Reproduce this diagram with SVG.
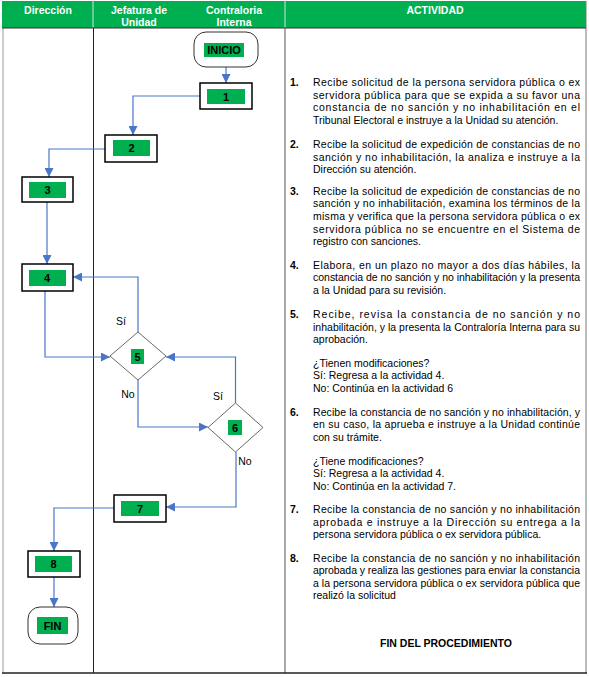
<svg xmlns="http://www.w3.org/2000/svg" width="589" height="677" viewBox="0 0 589 677">
<style>
.hd{font-family:"Liberation Sans",Arial,sans-serif;font-size:10.5px;font-weight:bold;fill:#fff;text-anchor:middle}
.tx{font-family:"Liberation Sans",Arial,sans-serif;font-size:10.5px;fill:#000}
.nb{font-family:"Liberation Sans",Arial,sans-serif;font-size:10.5px;font-weight:bold;fill:#000}
.lb{font-family:"Liberation Sans",Arial,sans-serif;font-size:11px;font-weight:bold;fill:#000;text-anchor:middle}
.sm{font-family:"Liberation Sans",Arial,sans-serif;font-size:10.5px;fill:#000;text-anchor:middle}
.box{fill:#fff;stroke:#000;stroke-width:1.5}
.term{fill:#fff;stroke:#333;stroke-width:1}
.dia{fill:#fff;stroke:#444;stroke-width:0.8}
.g{fill:#00B050}
.cn{fill:none;stroke:#4a76c8;stroke-width:1.2}
</style>
<defs>
<marker id="ar" markerUnits="userSpaceOnUse" markerWidth="9" markerHeight="9" refX="9" refY="4.5" orient="auto">
<path d="M0,0 L9,4.5 L0,9 z" fill="#4a76c8"/>
</marker>
</defs>
<rect width="589" height="677" fill="#fff"/>
<g id="table">
<rect x="2" y="1" width="584" height="27" fill="#00B050"/>
<line x1="93" y1="1" x2="93" y2="28" stroke="#cfe8d8" stroke-width="1"/>
<line x1="285" y1="1" x2="285" y2="28" stroke="#cfe8d8" stroke-width="1"/>
<line x1="3" y1="28" x2="3" y2="673" stroke="#999" stroke-width="1"/>
<line x1="93.5" y1="28" x2="93.5" y2="673" stroke="#222" stroke-width="1"/>
<line x1="285" y1="28" x2="285" y2="673" stroke="#555" stroke-width="1"/>
<line x1="586" y1="1" x2="586" y2="673" stroke="#777" stroke-width="1"/>
<line x1="2" y1="28" x2="586" y2="28" stroke="#333" stroke-width="1"/>
<line x1="2" y1="673" x2="587" y2="673" stroke="#222" stroke-width="1.5"/>
<text class="hd" x="48" y="14">Dirección</text>
<text class="hd" x="139" y="14">Jefatura de</text>
<text class="hd" x="139" y="26">Unidad</text>
<text class="hd" x="234" y="14">Contraloria</text>
<text class="hd" x="234" y="26">Interna</text>
<text class="hd" x="435" y="14">ACTIVIDAD</text>
</g>
<g id="connectors">
<path class="cn" d="M226 67 V83" marker-end="url(#ar)"/>
<path class="cn" d="M200 96 H133 V135" marker-end="url(#ar)"/>
<path class="cn" d="M105 149 H49 V177" marker-end="url(#ar)"/>
<path class="cn" d="M47 202 V264" marker-end="url(#ar)"/>
<path class="cn" d="M45 291 V357 H110" marker-end="url(#ar)"/>
<path class="cn" d="M138 332 V277 H73" marker-end="url(#ar)"/>
<path class="cn" d="M138 380 V427 H208" marker-end="url(#ar)"/>
<path class="cn" d="M235.5 403 V357 H166" marker-end="url(#ar)"/>
<path class="cn" d="M236 452 V507 H166" marker-end="url(#ar)"/>
<path class="cn" d="M114 508 H54 V551" marker-end="url(#ar)"/>
<path class="cn" d="M54 577 V607" marker-end="url(#ar)"/>
<text class="sm" x="121" y="325">Sí</text>
<text class="sm" x="128" y="398">No</text>
<text class="sm" x="218" y="400">Sí</text>
<text class="sm" x="245" y="465">No</text>
</g>
<g id="inicio">
<rect class="term" x="194" y="32" width="64" height="35" rx="12"/>
<rect class="g" x="204" y="43" width="40" height="14"/>
<text class="lb" x="224" y="54">INICIO</text>
</g>
<g id="n1">
<rect class="box" x="200" y="83" width="52" height="26"/>
<rect class="g" x="207" y="89" width="38" height="15"/>
<text class="lb" x="226" y="100.5">1</text>
</g>
<g id="n2">
<rect class="box" x="105" y="135" width="52" height="27"/>
<rect class="g" x="113" y="140" width="37" height="16"/>
<text class="lb" x="131.5" y="152">2</text>
</g>
<g id="n3">
<rect class="box" x="22" y="177" width="51" height="25"/>
<rect class="g" x="29" y="182" width="37" height="16"/>
<text class="lb" x="47.5" y="194">3</text>
</g>
<g id="n4">
<rect class="box" x="22" y="264" width="51" height="27"/>
<rect class="g" x="29" y="270" width="37" height="16"/>
<text class="lb" x="47" y="282">4</text>
</g>
<g id="n5">
<polygon class="dia" points="138,332 166,356 138,380 110,356"/>
<rect class="g" x="131" y="349" width="13" height="15"/>
<text class="lb" x="137.5" y="360.5">5</text>
</g>
<g id="n6">
<polygon class="dia" points="235.5,403 263,427.5 235.5,452 208,427.5"/>
<rect class="g" x="228" y="420" width="14" height="15"/>
<text class="lb" x="235" y="432">6</text>
</g>
<g id="n7">
<rect class="box" x="114" y="495" width="52" height="27"/>
<rect class="g" x="121" y="501" width="38" height="15"/>
<text class="lb" x="140" y="512.5">7</text>
</g>
<g id="n8">
<rect class="box" x="28" y="551" width="52" height="26"/>
<rect class="g" x="35" y="556" width="37" height="16"/>
<text class="lb" x="53.5" y="568">8</text>
</g>
<g id="fin">
<rect class="term" x="28" y="607" width="50" height="37" rx="12"/>
<rect class="g" x="37" y="617" width="31" height="17"/>
<text class="lb" x="52.5" y="629.5">FIN</text>
</g>
<g id="actividad">
<text class="nb" x="290" y="86">1.</text>
<text class="tx" x="313" y="86" textLength="267" lengthAdjust="spacing">Recibe solicitud de la persona servidora pública o ex</text>
<text class="tx" x="313" y="99" textLength="267" lengthAdjust="spacing">servidora pública para que se expida a su favor una</text>
<text class="tx" x="313" y="111" textLength="267" lengthAdjust="spacing">constancia de no sanción y no inhabilitación en el</text>
<text class="tx" x="313" y="124">Tribunal Electoral e instruye a la Unidad su atención.</text>

<text class="nb" x="290" y="148">2.</text>
<text class="tx" x="313" y="148" textLength="267" lengthAdjust="spacing">Recibe la solicitud de expedición de constancias de no</text>
<text class="tx" x="313" y="161" textLength="267" lengthAdjust="spacing">sanción y no inhabilitación, la analiza e instruye a la</text>
<text class="tx" x="313" y="173">Dirección su atención.</text>

<text class="nb" x="290" y="195">3.</text>
<text class="tx" x="313" y="195" textLength="267" lengthAdjust="spacing">Recibe la solicitud de expedición de constancias de no</text>
<text class="tx" x="313" y="207" textLength="267" lengthAdjust="spacing">sanción y no inhabilitación, examina los términos de la</text>
<text class="tx" x="313" y="220" textLength="267" lengthAdjust="spacing">misma y verifica que la persona servidora pública o ex</text>
<text class="tx" x="313" y="233" textLength="267" lengthAdjust="spacing">servidora pública no se encuentre en el Sistema de</text>
<text class="tx" x="313" y="245">registro con sanciones.</text>

<text class="nb" x="290" y="269">4.</text>
<text class="tx" x="313" y="269" textLength="267" lengthAdjust="spacing">Elabora, en un plazo no mayor a dos días hábiles, la</text>
<text class="tx" x="313" y="281" textLength="267" lengthAdjust="spacing">constancia de no sanción y no inhabilitación y la presenta</text>
<text class="tx" x="313" y="294">a la Unidad para su revisión.</text>

<text class="nb" x="290" y="318">5.</text>
<text class="tx" x="313" y="318" textLength="267" lengthAdjust="spacing">Recibe, revisa la constancia de no sanción y no</text>
<text class="tx" x="313" y="331" textLength="267" lengthAdjust="spacing">inhabilitación, y la presenta la Contraloría Interna para su</text>
<text class="tx" x="313" y="343">aprobación.</text>
<text class="tx" x="313" y="367">¿Tienen modificaciones?</text>
<text class="tx" x="313" y="379">Sí: Regresa a la actividad 4.</text>
<text class="tx" x="313" y="392">No: Continúa en la actividad 6</text>

<text class="nb" x="290" y="416">6.</text>
<text class="tx" x="313" y="416" textLength="267" lengthAdjust="spacing">Recibe la constancia de no sanción y no inhabilitación, y</text>
<text class="tx" x="313" y="428" textLength="267" lengthAdjust="spacing">en su caso, la aprueba e instruye a la Unidad continúe</text>
<text class="tx" x="313" y="441">con su trámite.</text>
<text class="tx" x="313" y="465">¿Tiene modificaciones?</text>
<text class="tx" x="313" y="477">Sí: Regresa a la actividad 4.</text>
<text class="tx" x="313" y="490">No: Continúa en la actividad 7.</text>

<text class="nb" x="290" y="513">7.</text>
<text class="tx" x="313" y="513" textLength="267" lengthAdjust="spacing">Recibe la constancia de no sanción y no inhabilitación</text>
<text class="tx" x="313" y="526" textLength="267" lengthAdjust="spacing">aprobada e instruye a la Dirección su entrega a la</text>
<text class="tx" x="313" y="538">persona servidora pública o ex servidora pública.</text>

<text class="nb" x="290" y="562">8.</text>
<text class="tx" x="313" y="562" textLength="267" lengthAdjust="spacing">Recibe la constancia de no sanción y no inhabilitación</text>
<text class="tx" x="313" y="574" textLength="267" lengthAdjust="spacing">aprobada y realiza las gestiones para enviar la constancia</text>
<text class="tx" x="313" y="587" textLength="267" lengthAdjust="spacing">a la persona servidora pública o ex servidora pública que</text>
<text class="tx" x="313" y="599">realizó la solicitud</text>

<text class="nb" x="446" y="647" text-anchor="middle">FIN DEL PROCEDIMIENTO</text>
</g>
</svg>
